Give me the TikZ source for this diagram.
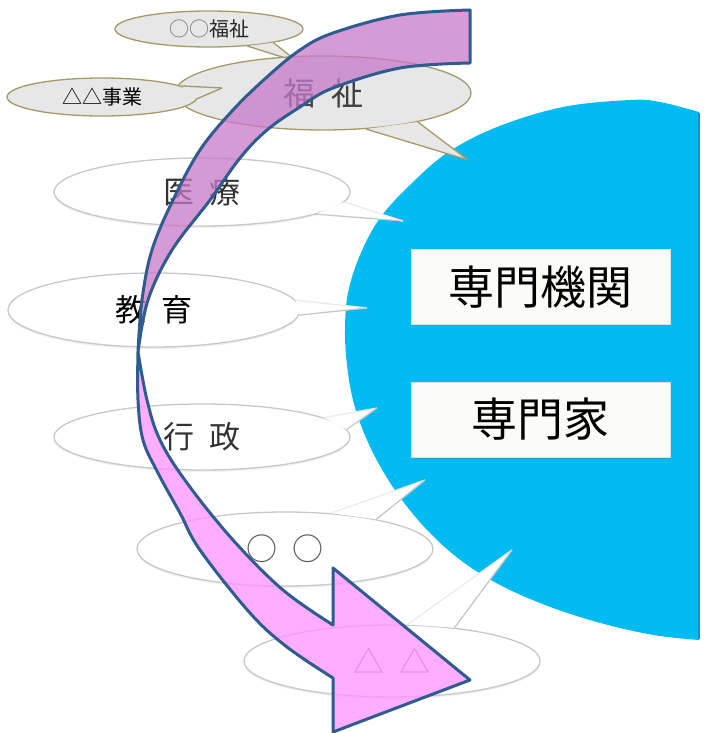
\documentclass[tikz,border=0pt]{standalone}
\usepackage{fontspec}
\setmainfont{Noto Sans CJK JP}
\usetikzlibrary{shapes.geometric,shadows}
\definecolor{skyblue}{HTML}{00BAF2}
\definecolor{skyedge}{HTML}{0096CC}
\definecolor{arrowline}{HTML}{2F5B8E}
\definecolor{pinkdark}{HTML}{C878C8}
\definecolor{pinklight}{HTML}{FF93FF}
\definecolor{goldrim}{HTML}{A49A68}
\definecolor{bubblegray}{HTML}{E7E7E7}
\definecolor{softrim}{HTML}{C8C8C8}
\definecolor{faintrim}{HTML}{EBEBEB}
\definecolor{boxfill}{HTML}{FBFBF7}
\newcommand{\bubtail}[7]{%
  \fill[#5] (#1.#2) -- (#4) -- (#1.#3) -- cycle;
  \draw[#6, line width=1.3pt] (#1.#2) -- (#4);
  \draw[#7, line width=1.3pt] (#4) -- (#1.#3);}
\begin{document}
\begin{tikzpicture}[x=1pt,y=-1pt,
  topbub/.style={ellipse, draw=goldrim, line width=1.3pt, fill=bubblegray, inner sep=0pt},
  lowbub/.style={ellipse, draw=softrim, line width=1.3pt, fill=white, inner sep=0pt,
                 minimum width=296pt, font=\fontsize{31}{31}\selectfont,
                 drop shadow={shadow xshift=0pt, shadow yshift=-2pt, opacity=0.12}},
  smalltext/.style={font=\fontsize{20}{20}\selectfont},
  infobox/.style={rectangle, fill=boxfill, draw=gray!25, line width=0.6pt,
                  minimum width=259pt, minimum height=75pt,
                  font=\fontsize{46}{46}\selectfont,
                  drop shadow={shadow xshift=1pt, shadow yshift=-1.5pt, opacity=0.35}},
  arrowpart/.style={draw=arrowline, line width=3pt, line join=round, fill opacity=0.75}
]
\useasboundingbox (0,0) rectangle (704,733);

% blue half disc
\fill[skyblue] plot[smooth, tension=0.6] coordinates {(699,112) (660,102) (630,100) (563,107)
  (497,127) (447,153) (410,185) (380,218) (360,255) (348,293) (345,330) (347,365) (353,400)
  (364,433) (380,466) (402,500) (430,533) (463,562) (500,585) (540,603) (580,617) (620,628)
  (660,636) (699,640)} -- cycle;
\draw[skyedge, line width=1.5pt] (699,113) -- (699,639);

% boxes
\node[infobox] (kikan) at (540.5,287) {専門機関};
\node[infobox] (senmonka) at (540.5,419.5) {専門家};

% tip coordinates
\coordinate (t1) at (298,62);
\coordinate (t2) at (468,160);
\coordinate (t3) at (222,88);
\coordinate (t4) at (403,221);
\coordinate (t5) at (367,308);
\coordinate (t6) at (377,408);
\coordinate (t7) at (425,480);
\coordinate (t8) at (512,550);

% lower callouts
\node[lowbub, minimum height=68pt, text=black!80] (iryo) at (202,192) {医\hspace{.47em}療};
\bubtail{iryo}{-11}{-4}{t4}{white}{softrim}{faintrim}
\node[lowbub, minimum width=292pt, minimum height=74pt, text=black] (kyoiku) at (154,310) {教\hspace{.47em}育};
\bubtail{kyoiku}{4}{-2}{t5}{white}{faintrim}{softrim}
\node[lowbub, minimum height=66pt, text=black!80] (gyosei) at (202,437) {行\hspace{.47em}政};
\bubtail{gyosei}{9}{3}{t6}{white}{faintrim}{softrim}
\node[lowbub, minimum height=74pt, text=black!65] (maru) at (285,549) {○\hspace{.5em}○};
\bubtail{maru}{38}{18}{t7}{white}{faintrim}{softrim}
\node[lowbub, minimum height=72pt, text=black!50] (sankaku) at (392,661) {△\hspace{.5em}△};
\bubtail{sankaku}{67}{28}{t8}{white}{faintrim}{softrim}

% upper callouts
\node[topbub, minimum width=188pt, minimum height=36pt, smalltext] (marufukushi) at (209,29)
  {\textcolor{black!55}{○○}\textcolor{black!85}{福祉}};
\bubtail{marufukushi}{-24}{-12}{t1}{bubblegray}{goldrim}{goldrim}
\node[topbub, minimum width=296pt, minimum height=74pt, font=\fontsize{32}{32}\selectfont,
      text=black!75] (fukushi) at (323,93) {福\hspace{.5em}祉};
\bubtail{fukushi}{-40}{-17}{t2}{bubblegray}{goldrim}{goldrim}
\node[topbub, minimum width=190pt, minimum height=38pt, smalltext, text=black] (jigyo) at (102,97)
  {△△事業};
\bubtail{jigyo}{8}{-1}{t3}{bubblegray}{goldrim}{goldrim}

% curved arrow: upper (back) band
\path[arrowpart, fill=pinkdark]
  plot[smooth, tension=0.6] coordinates {(470,10) (400,15) (333,33) (300,50) (267,77) (233,110)
    (200,150) (173,200) (152,250) (142,300) (138,352)}
  -- plot[smooth, tension=0.6] coordinates {(138,352) (148,300) (172,250) (210,200) (240,158)
    (267,130) (300,107) (333,88) (400,68) (470,63)}
  -- cycle;
% curved arrow: lower (front) band with head
\path[arrowpart, fill=pinklight]
  plot[smooth, tension=0.6] coordinates {(138,352) (138,400) (143,440) (158,473) (180,513)
    (200,550) (250,613) (287,647) (333,678)}
  -- (333,732) -- (470,680) -- (333,568) -- (333,625)
  -- plot[smooth, tension=0.6] coordinates {(333,625) (283,590) (233,540) (187,483) (160,440)
    (147,400) (138,352)}
  -- cycle;
\end{tikzpicture}
\end{document}
